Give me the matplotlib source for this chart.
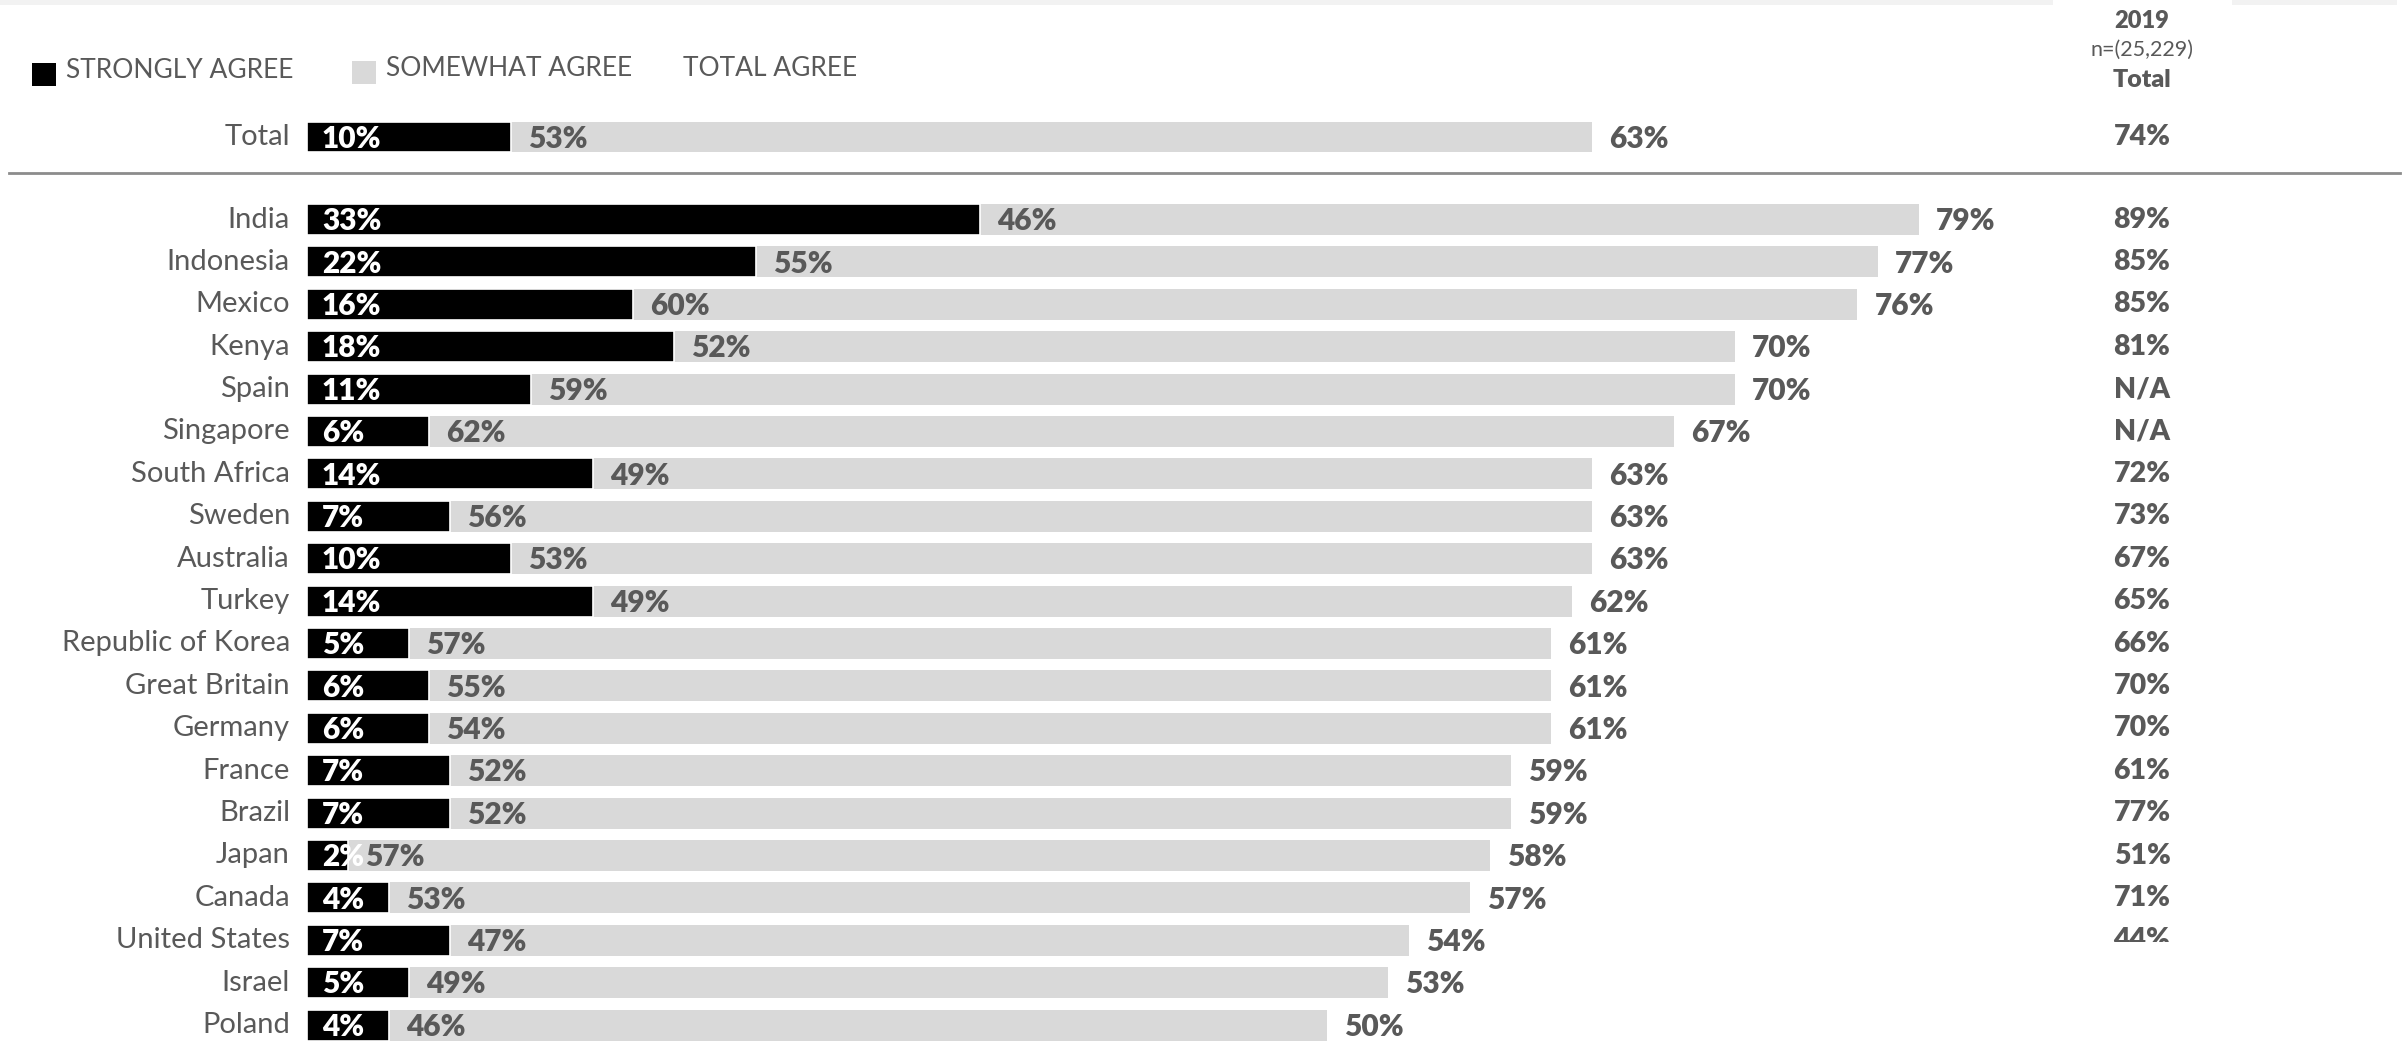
import matplotlib
matplotlib.use("Agg")
import matplotlib.pyplot as plt
from matplotlib.patches import Rectangle
from matplotlib.lines import Line2D

# Survey results: share who agree, by country
countries = ["India", "Indonesia", "Mexico", "Kenya", "Spain", "Singapore",
             "South Africa", "Sweden", "Australia", "Turkey", "Republic of Korea",
             "Great Britain", "Germany", "France", "Brazil", "Japan", "Canada",
             "United States", "Israel", "Poland"]
strongly = [33, 22, 16, 18, 11, 6, 14, 7, 10, 14, 5, 6, 6, 7, 7, 2, 4, 7, 5, 4]
somewhat = [46, 55, 60, 52, 59, 62, 49, 56, 53, 49, 57, 55, 54, 52, 52, 57, 53, 47, 49, 46]
total = [79, 77, 76, 70, 70, 67, 63, 63, 63, 62, 61, 61, 61, 59, 59, 58, 57, 54, 53, 50]
total_2019 = ["89%", "85%", "85%", "81%", "N/A", "N/A", "72%", "73%", "67%", "65%",
              "66%", "70%", "70%", "61%", "77%", "51%", "71%", "44%", "", ""]

overall_strongly = 10
overall_somewhat = 53
overall_total = 63
overall_2019 = "74%"

W, H = 2407, 1043
X0 = 307          # pixel where the bars start
PX_PCT = 20.4     # pixels per percentage point
Y0 = 219.5        # pixel centre of first country row
ROW = 42.4        # pixels between rows

BLACK = "#000000"
LIGHT = "#d9d9d9"
TEXT = "#595959"
FONT = "Lato"
BOLD = "heavy"

plt.rcParams["font.family"] = [FONT, "DejaVu Sans"]

fig = plt.figure(figsize=(W / 100, H / 100), dpi=100)
ax = fig.add_axes([0, 0, 1, 1])
ax.set_xlim(-X0 / PX_PCT, (W - X0) / PX_PCT)
ax.set_ylim((H - Y0) / ROW, -Y0 / ROW)
ax.axis("off")


def fx(px):
    return px / W


def fy(py):
    return 1 - py / H


rows = list(range(len(countries)))
total_row = (137 - Y0) / ROW
bar_h = 0.73
col_x = (2142 - X0) / PX_PCT
pad = 17 / PX_PCT


def draw_row(y, name, s, w, t, prev, clip=None):
    ax.barh(y, t, height=bar_h, color=LIGHT, zorder=1)
    ax.barh(y, s, height=bar_h, color=BLACK, edgecolor="white", linewidth=1.2, zorder=2)
    ax.text(-17 / PX_PCT, y, name, ha="right", va="center", fontsize=21,
            fontweight="normal", color=TEXT)
    ax.text(15 / PX_PCT, y + 0.04, f"{s}%", ha="left", va="center", fontsize=21.5,
            fontweight=BOLD, color="white", zorder=3)
    ax.text(s + pad, y + 0.04, f"{w}%", ha="left", va="center", fontsize=21.5,
            fontweight=BOLD, color=TEXT, zorder=3)
    ax.text(t + pad, y + 0.04, f"{t}%", ha="left", va="center", fontsize=21.5,
            fontweight=BOLD, color=TEXT, zorder=3)
    if prev:
        pt = ax.text(col_x, y, prev, ha="center", va="center", fontsize=20.5,
                     fontweight=BOLD, color=TEXT, zorder=3)
        if clip is not None:
            pt.set_clip_on(True)
            pt.set_clip_path(clip)


draw_row(total_row, "Total", overall_strongly, overall_somewhat, overall_total, overall_2019)

# last value in the 2019 column is cut off at the bottom
cut = Rectangle((80, -10), 20, 10 + (942 - Y0) / ROW, transform=ax.transData,
                facecolor="none", edgecolor="none")
ax.add_patch(cut)
for i, name in enumerate(countries):
    draw_row(rows[i], name, strongly[i], somewhat[i], total[i], total_2019[i],
             clip=cut if i == 17 else None)

# separator under the total row
fig.add_artist(Line2D([fx(9), fx(2400)], [fy(173), fy(173)], color="#8c8c8c", lw=2))

# thin band along the top edge
fig.add_artist(Rectangle((0, fy(5)), fx(2053), 5 / H, transform=fig.transFigure,
                         facecolor="#f2f2f2", edgecolor="none"))
fig.add_artist(Rectangle((fx(2232), fy(5)), fx(2397) - fx(2232), 5 / H,
                         transform=fig.transFigure, facecolor="#f2f2f2", edgecolor="none"))

# legend
fig.add_artist(Rectangle((fx(32), fy(86)), 24 / W, 23 / H, transform=fig.transFigure,
                         facecolor=BLACK, edgecolor="none"))
fig.add_artist(Rectangle((fx(352), fy(84)), 24 / W, 23 / H, transform=fig.transFigure,
                         facecolor=LIGHT, edgecolor="none"))
fig.text(fx(66), fy(71), "STRONGLY AGREE", ha="left", va="center", fontsize=19,
         color=TEXT)
fig.text(fx(386), fy(69), "SOMEWHAT AGREE", ha="left", va="center", fontsize=19,
         color=TEXT)
fig.text(fx(683), fy(69), "TOTAL AGREE", ha="left", va="center", fontsize=19,
         color=TEXT)

# 2019 column header
fig.text(fx(2142), fy(21), "2019", ha="center", va="center", fontsize=17,
         fontweight=BOLD, color=TEXT)
fig.text(fx(2142), fy(50), "n=(25,229)", ha="center", va="center", fontsize=15.5,
         color=TEXT)
fig.text(fx(2142), fy(80), "Total", ha="center", va="center", fontsize=18,
         fontweight=BOLD, color=TEXT)

fig.savefig("out.png", dpi=100, facecolor="white")
